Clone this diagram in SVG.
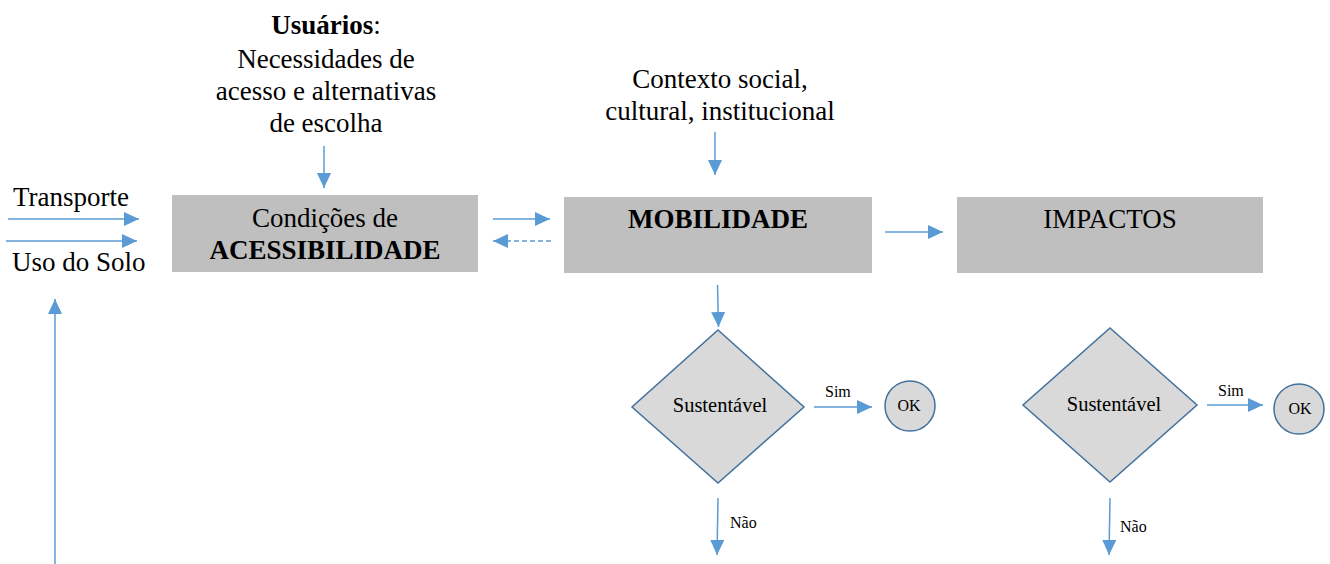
<svg xmlns="http://www.w3.org/2000/svg" width="1330" height="564" viewBox="0 0 1330 564">
<style>
text{font-family:"Liberation Serif","Times New Roman",serif;fill:#000}
.t26{font-size:27px}
.t20{font-size:20.5px}
.t16{font-size:16px}
.b{font-weight:bold}
.box{fill:#BFBFBF}
.dec{fill:#D9D9D9;stroke:#41719C;stroke-width:1.5}
.c{stroke:#5B9BD5;stroke-width:1.5;fill:none;marker-end:url(#ah)}
.d{stroke-dasharray:5 3}
</style>
<defs>
<marker id="ah" viewBox="0 0 15 14" refX="15" refY="7" markerWidth="15" markerHeight="14" markerUnits="userSpaceOnUse" orient="auto">
<path d="M0,0 L15,7 L0,14 Z" fill="#5B9BD5"/>
</marker>
</defs>
<g id="usuarios">
<text class="t26" x="326" y="34" text-anchor="middle"><tspan class="b">Usuários</tspan>:</text>
<text class="t26" x="326" y="68" text-anchor="middle">Necessidades de</text>
<text class="t26" x="326" y="100" text-anchor="middle">acesso e alternativas</text>
<text class="t26" x="326" y="132" text-anchor="middle">de escolha</text>
</g>
<g id="contexto">
<text class="t26" x="720" y="88" text-anchor="middle">Contexto social,</text>
<text class="t26" x="720" y="120" text-anchor="middle">cultural, institucional</text>
</g>
<g id="transporte"><text class="t26" x="13" y="206">Transporte</text></g>
<g id="usosolo"><text class="t26" x="12" y="271">Uso do Solo</text></g>
<g id="acessibilidade">
<rect class="box" x="172" y="195" width="306" height="77"/>
<text class="t26" x="325" y="227" text-anchor="middle">Condições de</text>
<text class="t26 b" x="325" y="259" text-anchor="middle">ACESSIBILIDADE</text>
</g>
<g id="mobilidade">
<rect class="box" x="564" y="197" width="308" height="76"/>
<text class="t26 b" x="718" y="228" text-anchor="middle">MOBILIDADE</text>
</g>
<g id="impactos">
<rect class="box" x="957" y="197" width="306" height="76"/>
<text class="t26" x="1110" y="228" text-anchor="middle">IMPACTOS</text>
</g>
<g id="sust1">
<polygon class="dec" points="718,330 804,407 718,483 632,407"/>
<text class="t20" x="720" y="412" text-anchor="middle">Sustentável</text>
</g>
<g id="ok1">
<circle class="dec" cx="910" cy="406" r="25"/>
<text class="t16" x="909" y="411" text-anchor="middle">OK</text>
</g>
<g id="sust2">
<polygon class="dec" points="1110,328 1197,405 1110,482 1023,405"/>
<text class="t20" x="1114" y="411" text-anchor="middle">Sustentável</text>
</g>
<g id="ok2">
<circle class="dec" cx="1299" cy="409" r="25"/>
<text class="t16" x="1300" y="414" text-anchor="middle">OK</text>
</g>
<g id="connectors">
<line class="c" x1="8" y1="219" x2="139" y2="219"/>
<line class="c" x1="6" y1="241" x2="137" y2="241"/>
<line class="c" x1="55" y1="564" x2="55" y2="299"/>
<line class="c" x1="324" y1="146" x2="324" y2="188"/>
<line class="c" x1="715" y1="132" x2="715" y2="175"/>
<line class="c" x1="493" y1="219" x2="550" y2="219"/>
<line class="c d" x1="551" y1="241" x2="493" y2="241"/>
<line class="c" x1="885" y1="232" x2="943" y2="232"/>
<line class="c" x1="717.5" y1="285" x2="718.5" y2="327"/>
<line class="c" x1="814" y1="407" x2="872" y2="407"/>
<line class="c" x1="718" y1="498" x2="717" y2="555"/>
<line class="c" x1="1207" y1="405" x2="1263" y2="405"/>
<line class="c" x1="1110" y1="498" x2="1109" y2="555"/>
<text class="t16" x="825" y="397">Sim</text>
<text class="t16" x="1218" y="396">Sim</text>
<text class="t16" x="730" y="528">Não</text>
<text class="t16" x="1120" y="532">Não</text>
</g>
</svg>
